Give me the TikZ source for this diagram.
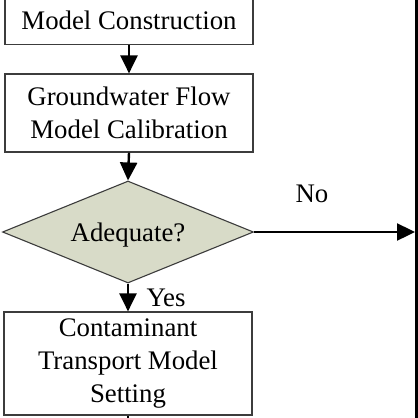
\documentclass[tikz,border=0pt]{standalone}
\usepackage{fontspec}
\setmainfont{Liberation Serif}
\usetikzlibrary{shapes.geometric,arrows.meta}
\definecolor{diafill}{RGB}{216,219,200}
\definecolor{edge}{RGB}{60,60,60}
\tikzset{
  txt/.style={font=\fontsize{26.8}{33}\selectfont},
  box/.style={draw=edge, line width=1.2pt, fill=white, minimum width=248pt, inner sep=0pt, align=center, txt},
  dia/.style={draw=edge, line width=1.1pt, fill=diafill, shape=diamond, inner sep=0pt, minimum width=251pt, minimum height=102pt},
  arr/.style={line width=2.4pt, -{Triangle[length=18pt,width=17pt]}},
  plain/.style={line width=2.4pt},
  lbl/.style={txt, inner sep=0pt}
}
\begin{document}
\begin{tikzpicture}[x=1pt,y=-1pt]
\clip (0,0) rectangle (418,418);
\fill[white] (0,0) rectangle (418,418);
\node[box, anchor=south, text height=60pt, text depth=15pt] (b1) at (129,45) {Model Construction};
\node[box, minimum height=78pt] (b2) at (129,113) {Groundwater Flow\\Model Calibration};
\node[dia, label={[lbl, yshift=-3.5pt]center:Adequate?}] (d) at (128,232) {};
\node[box, minimum height=103pt] (b3) at (128,363.5) {Contaminant\\Transport Model\\Setting};
\node[lbl] (no) at (312,194) {No};
\node[lbl] (yes) at (166,298) {Yes};
\coordinate (rt) at (416.5,-5);
\coordinate (rb) at (416.5,425);
\coordinate (nx) at (415,232);
\coordinate (down) at (128,425);
\draw[line width=3pt] (rt) -- (rb);
\draw[arr] (b1.south -| b2.north) -- (b2.north);
\draw[arr] (b2.south) -- (d.north);
\draw[arr] (d.south) -- (b3.north);
\draw[arr] (d.east) -- (nx);
\draw[plain] (b3.south) -- (down);
\end{tikzpicture}
\end{document}
